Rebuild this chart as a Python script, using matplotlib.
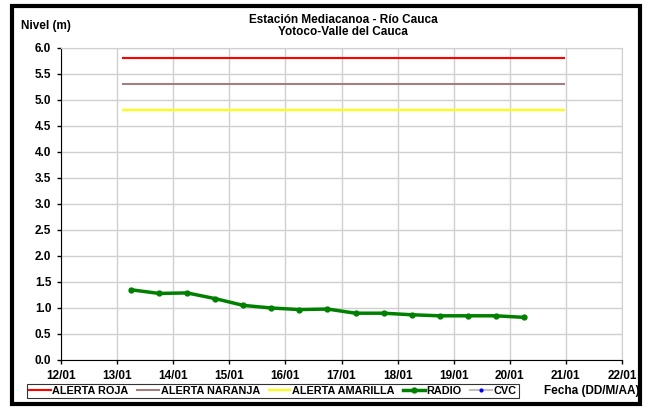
import matplotlib.pyplot as plt
import matplotlib as mpl
from matplotlib.patches import Rectangle

plt.rcParams["font.family"] = ["Liberation Sans", "DejaVu Sans"]
plt.rcParams["font.weight"] = "bold"

# day positions (12 = 12/01)
x_labels = ["12/01", "13/01", "14/01", "15/01", "16/01", "17/01",
            "18/01", "19/01", "20/01", "21/01", "22/01"]
x_ticks = list(range(12, 23))

radio_x = [13.25, 13.75, 14.25, 14.75, 15.25, 15.75, 16.25, 16.75,
           17.25, 17.75, 18.25, 18.75, 19.25, 19.75, 20.25]
radio_y = [1.35, 1.28, 1.29, 1.18, 1.05, 1.00, 0.97, 0.98,
           0.90, 0.90, 0.87, 0.85, 0.85, 0.85, 0.82]

alert_x = [13.1, 20.97]
alerta_roja = 5.8
alerta_naranja = 5.3
alerta_amarilla = 4.8

fig = plt.figure(figsize=(6.5, 4.09), dpi=100)
ax = fig.add_axes([61 / 650, 1 - 360 / 409, 561 / 650, 312 / 409])

ax.plot(alert_x, [alerta_roja] * 2, color="#ff0000", lw=1.5, label="ALERTA ROJA")
ax.plot(alert_x, [alerta_naranja] * 2, color="#a08080", lw=1.5, label="ALERTA NARANJA")
ax.plot(alert_x, [alerta_amarilla] * 2, color="#ffff00", lw=1.5, label="ALERTA AMARILLA")
ax.plot(radio_x, radio_y, color="#008000", lw=2.5, marker="o", ms=3.5, label="RADIO")
ax.plot([], [], color="#c0c0c0", lw=1.5, marker="o", ms=2, mfc="#0000ff", mec="#0000ff", label="CVC")

ax.set_xlim(12, 22)
ax.set_ylim(0, 6)
ax.set_xticks(x_ticks)
ax.set_xticklabels(x_labels)
ax.set_yticks([i * 0.5 for i in range(13)])
ax.set_yticklabels([f"{i * 0.5:.1f}" for i in range(13)])
ax.tick_params(labelsize=8.5, length=3, width=1, direction="out", pad=4)
ax.grid(True, color="#d0d0d0", lw=1)
ax.set_axisbelow(True)
for s in ["top", "right"]:
    ax.spines[s].set_color("#d0d0d0")
for s in ["left", "bottom"]:
    ax.spines[s].set_color("black")

fig.text(343 / 650, 1 - 26 / 409, "Estación Mediacanoa - Río Cauca\nYotoco-Valle del Cauca",
         ha="center", va="center", fontsize=8.5, fontweight="bold", linespacing=1.1)
fig.text(21 / 650, 1 - 26 / 409, "Nivel (m)", ha="left", va="center", fontsize=8.5, fontweight="bold")
fig.text(640 / 650, 1 - 391 / 409, "Fecha (DD/M/AA)", ha="right", va="center", fontsize=8.5, fontweight="bold")

leg = fig.legend(loc="center left", bbox_to_anchor=(27 / 650, 1 - 391 / 409), ncol=5,
                 fontsize=7.8, frameon=True, fancybox=False, edgecolor="black",
                 handlelength=2.0, handletextpad=0.15, columnspacing=0.8,
                 borderpad=0.2, borderaxespad=0)
leg.get_frame().set_linewidth(0.8)

fig.patches.append(Rectangle((12 / 650, 1 - 404 / 409), 628 / 650, 398 / 409,
                             transform=fig.transFigure, fill=False, lw=3, ec="black"))

fig.savefig("out.png", dpi=100)
